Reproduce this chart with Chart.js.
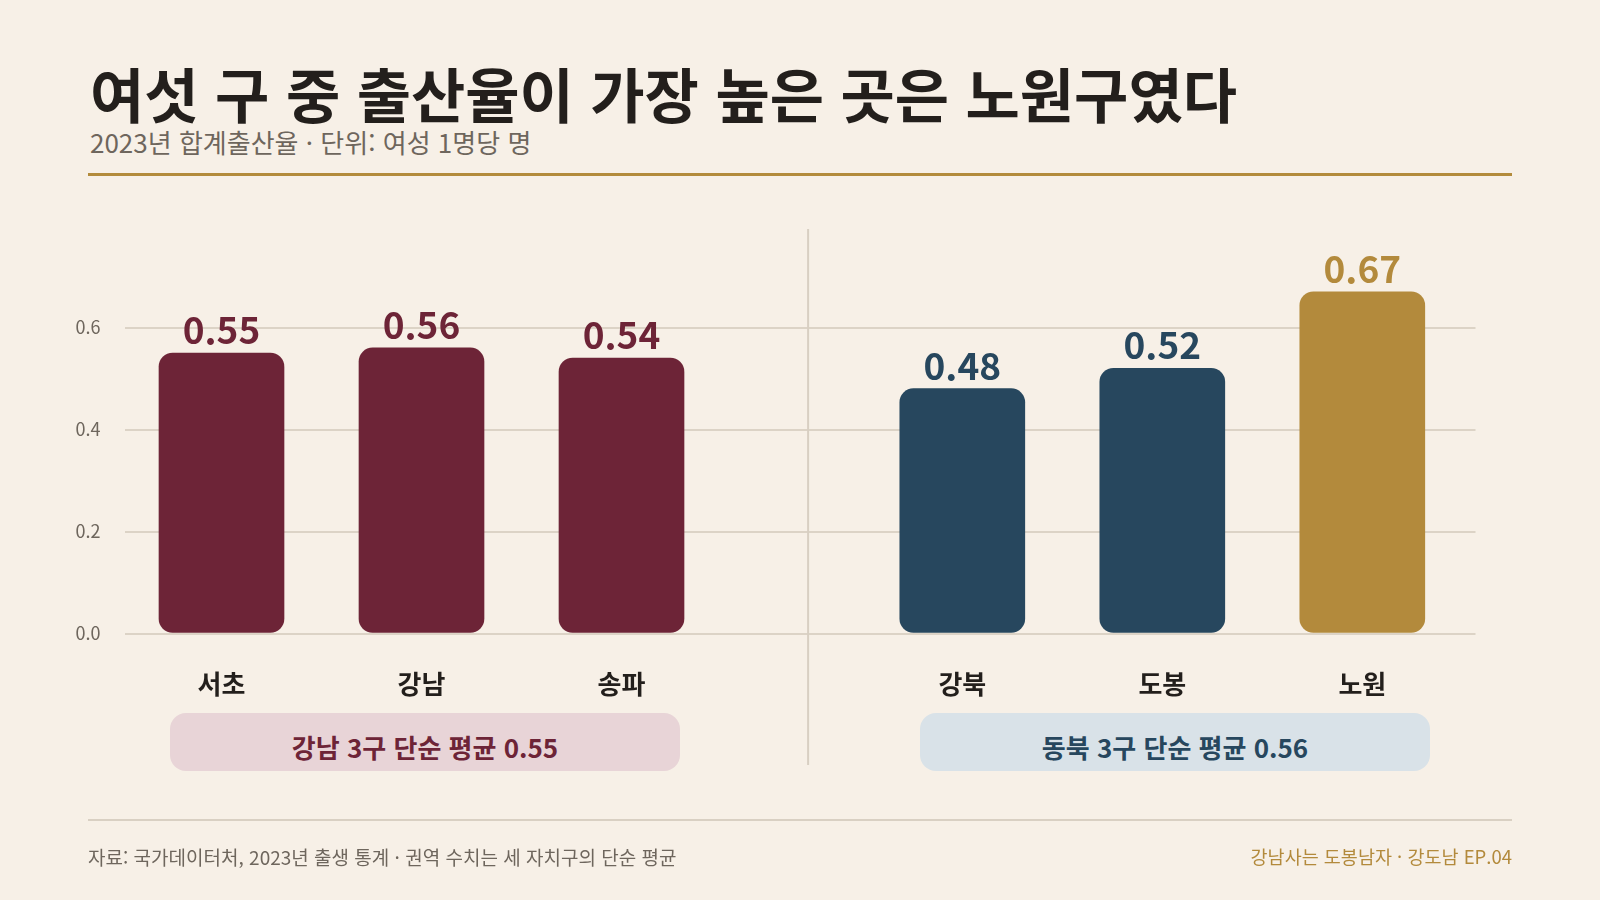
<!DOCTYPE html>
<html lang="ko">
<head>
<meta charset="utf-8">
<script src="https://cdn.jsdelivr.net/npm/chart.js@4.4.1/dist/chart.umd.min.js"></script>
<style>
  html, body { margin: 0; padding: 0; }
  body { width: 1600px; height: 900px; background: #f7f0e7; position: relative; overflow: hidden;
         font-family: 'Noto Sans CJK KR', 'Noto Sans', sans-serif; }
  #title { position: absolute; left: 90px; top: 63px; font-size: 59px; font-weight: 700; color: #231f1c;
           line-height: 1; white-space: nowrap; }
  #subtitle { position: absolute; left: 90px; top: 129px; font-size: 26px; font-weight: 400; color: #6e665d;
              line-height: 1; white-space: nowrap; }
  #rule { position: absolute; left: 88px; top: 173px; width: 1424px; height: 3px; background: #b38b3c; }
  #chartWrap { position: absolute; left: 0; top: 0; width: 1600px; height: 900px; }
  .avg { position: absolute; top: 713px; height: 58px; width: 510px; border-radius: 16px; box-sizing: border-box;
         padding-top: 8px;
         display: flex; align-items: center; justify-content: center; font-size: 26px; font-weight: 700; }
  #avgL { left: 170px; background: #e8d4d7; color: #6d2437; }
  #avgR { left: 920px; background: #d9e2e8; color: #27475e; }
  #sep { position: absolute; left: 88px; top: 819px; width: 1424px; height: 2px; background: #d9d0c3; }
  #srcL { position: absolute; left: 88px; top: 847px; font-size: 19px; color: #6e665d; line-height: 1; white-space: nowrap; }
  #srcR { position: absolute; right: 88px; top: 847px; font-size: 18.5px; color: #b38a3c; line-height: 1; white-space: nowrap; }
</style>
</head>
<body>
<div id="title">여섯 구 중 출산율이 가장 높은 곳은 노원구였다</div>
<div id="subtitle">2023년 합계출산율 · 단위: 여성 1명당 명</div>
<div id="rule"></div>
<div id="chartWrap"><canvas id="c" width="1600" height="900"></canvas></div>
<div class="avg" id="avgL"></div>
<div class="avg" id="avgR"></div>
<div id="sep"></div>
<div id="srcL">자료: 국가데이터처, 2023년 출생 통계 · 권역 수치는 세 자치구의 단순 평균</div>
<div id="srcR">강남사는 도봉남자 · 강도남 EP.04</div>
<script>
// ---- data ----
const districts = ['서초', '강남', '송파', '강북', '도봉', '노원'];
const rates = [0.55, 0.56, 0.54, 0.48, 0.52, 0.67];
const groups = ['강남 3구', '동북 3구'];
const groupAverages = [0.55, 0.56];
const yTicks = [0, 0.2, 0.4, 0.6];

// ---- styling ----
const MAROON = '#6d2437', NAVY = '#27475e', GOLD = '#b38a3c';
const barColors = [MAROON, MAROON, MAROON, NAVY, NAVY, GOLD];
const GROUP_GAP = 0.704;
const positions = districts.map((_, i) => i + (i >= 3 ? GROUP_GAP : 0));
const DIVIDER_AT = 2.933;

document.getElementById('avgL').textContent = groups[0] + ' 단순 평균 ' + groupAverages[0].toFixed(2);
document.getElementById('avgR').textContent = groups[1] + ' 단순 평균 ' + groupAverages[1].toFixed(2);

const FONT = "'Noto Sans CJK KR', 'Noto Sans', sans-serif";

const labelPlugin = {
  id: 'valueLabels',
  afterDatasetsDraw(chart) {
    const ctx = chart.ctx;
    const meta = chart.getDatasetMeta(0);
    ctx.save();
    ctx.font = '700 37px ' + FONT;
    ctx.textAlign = 'center';
    ctx.textBaseline = 'alphabetic';
    meta.data.forEach((bar, i) => {
      ctx.fillStyle = barColors[i];
      ctx.fillText(rates[i].toFixed(2), bar.x, bar.y - 9);
    });
    ctx.restore();
  }
};
const dividerPlugin = {
  id: 'divider',
  beforeDatasetsDraw(chart) {
    const ctx = chart.ctx;
    const x = chart.scales.x.getPixelForValue(DIVIDER_AT);
    ctx.save();
    ctx.strokeStyle = '#d8cfc2';
    ctx.lineWidth = 2;
    ctx.beginPath();
    ctx.moveTo(x, 229);
    ctx.lineTo(x, 765);
    ctx.stroke();
    ctx.restore();
  }
};

new Chart(document.getElementById('c'), {
  type: 'bar',
  data: {
    datasets: [{
      data: rates.map((v, i) => ({ x: positions[i], y: v })),
      backgroundColor: barColors,
      borderRadius: 14,
      borderSkipped: false,
      barThickness: 125
    }]
  },
  options: {
    responsive: false,
    animation: false,
    events: [],
    layout: { padding: { left: 0, right: 124.5, top: 225.5, bottom: 0 } },
    plugins: { legend: { display: false }, tooltip: { enabled: false } },
    scales: {
      x: {
        type: 'linear',
        offset: false,
        min: -0.485, max: 6.27,
        afterBuildTicks: (s) => { s.ticks = positions.map(v => ({ value: v })); },
        afterFit: (s) => { s.height = 900 - 633.5; },
        grid: { display: false, drawTicks: false },
        border: { display: false },
        ticks: {
          autoSkip: false, maxRotation: 0, padding: 35,
          color: '#231f1c',
          font: { family: FONT, size: 26, weight: '700' },
          callback: (v) => { const i = positions.findIndex(p => Math.abs(p - v) < 1e-6); return i >= 0 ? districts[i] : ''; }
        }
      },
      y: {
        min: 0, max: 0.8,
        afterBuildTicks: (s) => { s.ticks = yTicks.map(v => ({ value: v })); },
        afterFit: (s) => { s.width = 124.5; },
        grid: { color: '#dcd3c6', lineWidth: 2, drawTicks: false },
        border: { display: false },
        ticks: {
          padding: 24,
          color: '#6e665d',
          font: { family: FONT, size: 18 },
          callback: (v) => Number(v).toFixed(1)
        }
      }
    }
  },
  plugins: [dividerPlugin, labelPlugin]
});
</script>
</body>
</html>
